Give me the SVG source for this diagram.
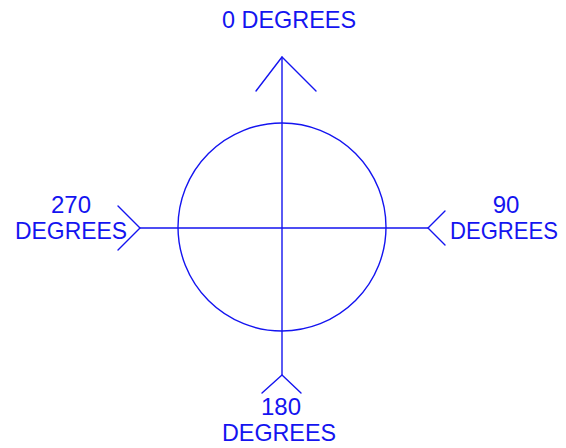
<svg xmlns="http://www.w3.org/2000/svg" width="566" height="448" viewBox="0 0 566 448">
<style>
.l{stroke:#1414f0;stroke-width:1.4;fill:none;stroke-linecap:round;stroke-linejoin:round}
.t{font-family:"Liberation Sans",Arial,sans-serif;font-size:24px;fill:#1414f0;text-anchor:middle}
</style>
<rect width="566" height="448" fill="#fff"/>
<g id="circle"><circle class="l" cx="282" cy="227" r="104"/></g>
<g id="connectors">
<line class="l" x1="282" y1="57" x2="282" y2="375"/>
<line class="l" x1="140" y1="228" x2="428" y2="228"/>
<polyline class="l" points="256,91 282,57 316,91"/>
<polyline class="l" points="262,393 282,375 301,393"/>
<polyline class="l" points="118,206 140,228 118,250"/>
<polyline class="l" points="445,211 428,228 445,245"/>
</g>
<g id="label-0"><text class="t" x="289" y="28" textLength="134" lengthAdjust="spacingAndGlyphs">0 DEGREES</text></g>
<g id="label-270"><text class="t" x="71" y="213">270</text><text class="t" x="71" y="239" textLength="112" lengthAdjust="spacingAndGlyphs">DEGREES</text></g>
<g id="label-90"><text class="t" x="506" y="213">90</text><text class="t" x="504" y="239" textLength="108" lengthAdjust="spacingAndGlyphs">DEGREES</text></g>
<g id="label-180"><text class="t" x="281" y="415">180</text><text class="t" x="279" y="441" textLength="114" lengthAdjust="spacingAndGlyphs">DEGREES</text></g>
</svg>
